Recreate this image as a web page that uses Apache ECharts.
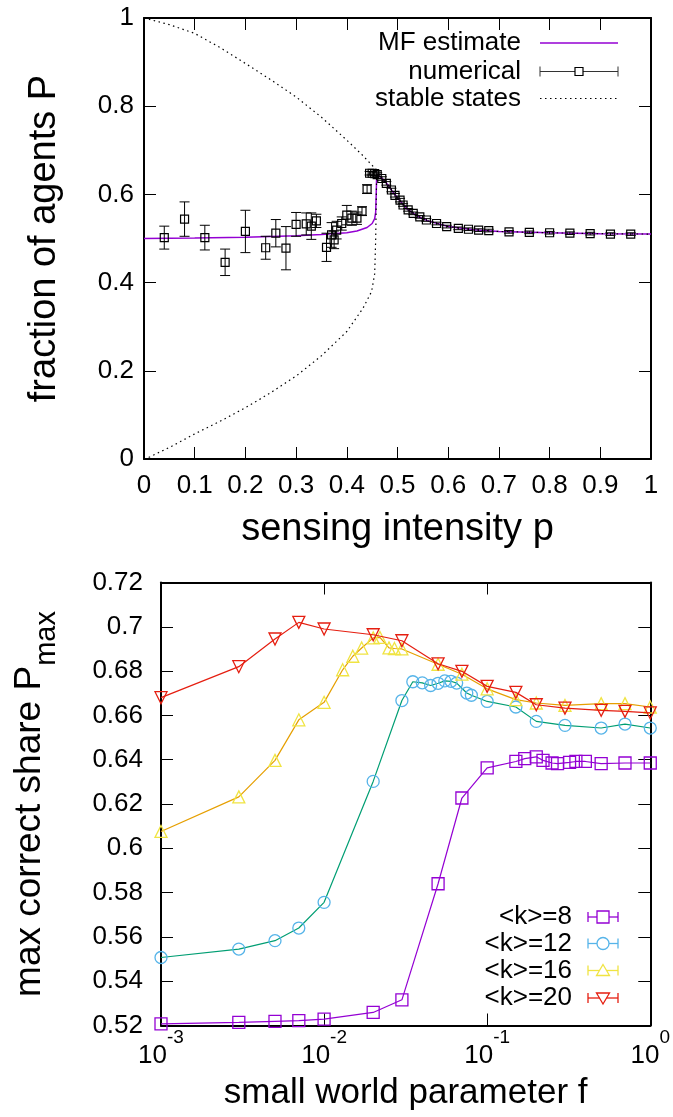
<!DOCTYPE html>
<html><head><meta charset="utf-8">
<script src="https://cdn.jsdelivr.net/npm/echarts@6/dist/echarts.min.js"></script>
<style>html,body{margin:0;padding:0;background:#fff}#c{width:673px;height:1117px}</style>
</head><body><div id="c"></div>
<script>
const FONT = '"Liberation Sans", Arial, Helvetica, sans-serif';

// ---------- top panel data ----------
const numP   = [0.04,0.08,0.12,0.16,0.20,0.24,0.26,0.28,0.30,0.32,0.33,0.34,0.36,0.37,0.375,0.38,0.39,0.40,0.41,0.42,0.43,0.44,0.445,0.45,0.455,0.46,0.469,0.478,0.488,0.495,0.505,0.511,0.521,0.531,0.544,0.557,0.577,0.597,0.62,0.64,0.66,0.68,0.72,0.76,0.80,0.84,0.88,0.92,0.96];
const numVal = [0.502,0.544,0.502,0.446,0.516,0.479,0.512,0.478,0.532,0.533,0.528,0.540,0.480,0.508,0.497,0.519,0.534,0.553,0.546,0.546,0.562,0.612,0.648,0.648,0.647,0.645,0.636,0.625,0.610,0.598,0.587,0.576,0.565,0.557,0.549,0.542,0.534,0.527,0.523,0.521,0.519,0.518,0.515,0.514,0.513,0.512,0.511,0.510,0.510];
const numErr = [0.026,0.039,0.028,0.030,0.048,0.026,0.031,0.049,0.027,0.025,0.030,0.015,0.032,0.028,0.020,0.020,0.015,0.022,0.016,0.014,0.010,0.010,0.004,0.004,0.004,0.004,0.004,0.004,0.004,0.004,0.004,0.003,0.003,0.003,0.003,0.003,0.003,0.003,0.003,0.003,0.003,0.003,0.003,0.003,0.003,0.003,0.003,0.003,0.003];

const mfP   = [0,0.1,0.2,0.3,0.35,0.4,0.42,0.44,0.45,0.455,0.457,0.458,0.459,0.462,0.47,0.48,0.49,0.5,0.52,0.54,0.56,0.6,0.65,0.7,0.8,0.9,1];
const mfVal = [0.5,0.501,0.503,0.506,0.509,0.513,0.517,0.525,0.534,0.545,0.56,0.6,0.646,0.645,0.636,0.623,0.607,0.592,0.566,0.55,0.54,0.527,0.52,0.516,0.513,0.511,0.51];

const stUpP   = [0,0.05,0.1,0.15,0.2,0.25,0.3,0.35,0.4,0.43,0.459,0.47,0.48,0.49,0.5,0.52,0.54,0.56,0.6,0.65,0.7,0.8,0.9,1];
const stUpVal = [1,0.985,0.965,0.933,0.897,0.86,0.821,0.775,0.723,0.69,0.655,0.636,0.623,0.607,0.592,0.566,0.55,0.54,0.527,0.52,0.516,0.513,0.511,0.51];
const stLoP   = [0,0.011,0.054,0.1,0.156,0.201,0.248,0.301,0.35,0.4,0.432,0.449,0.455,0.457,0.458,0.459];
const stLoVal = [0,0.0045,0.0285,0.057,0.089,0.117,0.149,0.189,0.234,0.289,0.342,0.38,0.42,0.5,0.58,0.655];

const topXTicks = ['0','0.1','0.2','0.3','0.4','0.5','0.6','0.7','0.8','0.9','1'];
const topYTicks = ['0','0.2','0.4','0.6','0.8','1'];

// ---------- bottom panel data ----------
const fK8  = [0.001,0.003,0.005,0.007,0.01,0.02,0.03,0.05,0.07,0.1,0.15,0.17,0.2,0.22,0.25,0.27,0.32,0.35,0.4,0.5,0.7,1];
const pK8  = [0.5207,0.5214,0.5219,0.5222,0.5229,0.5259,0.5316,0.584,0.6227,0.6363,0.6392,0.6405,0.6413,0.6397,0.6385,0.6382,0.6388,0.6392,0.6392,0.6382,0.6385,0.6385];
const fK12 = [0.001,0.003,0.005,0.007,0.01,0.02,0.03,0.035,0.04,0.045,0.05,0.055,0.06,0.065,0.075,0.08,0.1,0.15,0.2,0.3,0.5,0.7,1];
const pK12 = [0.5507,0.5545,0.5583,0.564,0.5756,0.6302,0.6667,0.6752,0.6747,0.6735,0.6745,0.6756,0.6754,0.6746,0.6701,0.6691,0.6663,0.6638,0.6573,0.6555,0.6543,0.6561,0.6543];
const fK16 = [0.001,0.003,0.005,0.007,0.01,0.013,0.015,0.017,0.02,0.022,0.025,0.027,0.03,0.05,0.07,0.1,0.15,0.2,0.3,0.5,0.7,1];
const pK16 = [0.6076,0.6232,0.6397,0.658,0.6659,0.6806,0.6867,0.6904,0.695,0.6952,0.6905,0.6902,0.690,0.6831,0.6786,0.672,0.6671,0.6656,0.6645,0.6653,0.6653,0.6638];
const fK20 = [0.001,0.003,0.005,0.007,0.01,0.02,0.03,0.05,0.07,0.1,0.15,0.2,0.3,0.5,0.7,1];
const pK20 = [0.668,0.682,0.6945,0.702,0.699,0.6964,0.6937,0.6833,0.6799,0.6731,0.6704,0.6648,0.6633,0.6623,0.6618,0.6611];

const botYTicks = ['0.52','0.54','0.56','0.58','0.6','0.62','0.64','0.66','0.68','0.7','0.72'];
const botXTicks = ['-3','-2','-1','0'];

const botNames = ['<k>=8','<k>=12','<k>=16','<k>=20'];
const topNames = ['MF estimate','numerical','stable states'];

// ---------- helpers ----------
const zip = (a,b) => a.map((v,i)=>[v,b[i]]);
const tickStyle = {show:true, inside:true, length:12, lineStyle:{color:'#000', width:1}};
const lineAx = {show:true, onZero:false, lineStyle:{color:'#000', width:2}};
const lblTop = (v) => topXTicks[Math.round(v*10)];

const chart = echarts.init(document.getElementById('c'), null, {renderer:'canvas'});

const markerCol = ['#9400D3','#56B4E9','#F0E442','#E51E10'];
const lineCol   = ['#9400D3','#009E73','#E69F00','#E51E10'];
const syms = ['rect','circle','triangle','triangle'];
const rots = [0,0,0,180];
const botData = [zip(fK8,pK8), zip(fK12,pK12), zip(fK16,pK16), zip(fK20,pK20)];

const option = {
  animation:false,
  backgroundColor:'#fff',
  textStyle:{fontFamily:FONT},
  grid:[
    {left:144, top:18, width:507, height:441},
    {left:161, top:582.5, width:490, height:443}
  ],
  xAxis:[
    {type:'value', gridIndex:0, min:0, max:1, interval:0.1, position:'bottom',
     axisLine:lineAx, axisTick:tickStyle, splitLine:{show:false},
     axisLabel:{margin:14, fontSize:26, color:'#000', fontFamily:FONT, hideOverlap:false,
       formatter:(v)=>lblTop(v)},
     name:'sensing intensity p', nameLocation:'middle', nameGap:52,
     nameTextStyle:{fontSize:38, color:'#000', fontFamily:FONT}},
    {type:'value', gridIndex:0, min:0, max:1, interval:0.1, position:'top',
     axisLine:lineAx, axisTick:tickStyle, axisLabel:{show:false}, splitLine:{show:false}},
    {type:'log', logBase:10, gridIndex:1, min:0.001, max:1, position:'bottom',
     axisLine:lineAx, axisTick:tickStyle, splitLine:{show:false}, minorTick:{show:false},
     axisLabel:{margin:3, color:'#000', fontFamily:FONT, hideOverlap:false,
       formatter:(v)=>{const e=Math.round(Math.log10(v)); return '{b|10}{s|'+botXTicks[e+3]+'}';},
       rich:{b:{fontSize:26, fontFamily:FONT, color:'#000', lineHeight:40, verticalAlign:'bottom'},
             s:{fontSize:19, fontFamily:FONT, color:'#000', verticalAlign:'top'}}},
     name:'small world parameter f', nameLocation:'middle', nameGap:50,
     nameTextStyle:{fontSize:35, color:'#000', fontFamily:FONT}},
    {type:'log', logBase:10, gridIndex:1, min:0.001, max:1, position:'top',
     axisLine:lineAx, axisTick:tickStyle, axisLabel:{show:false}, splitLine:{show:false}}
  ],
  yAxis:[
    {type:'value', gridIndex:0, min:0, max:1, interval:0.2, position:'left',
     axisLine:lineAx, axisTick:tickStyle, splitLine:{show:false},
     axisLabel:{margin:10, fontSize:26, color:'#000', fontFamily:FONT,
       formatter:(v)=>topYTicks[Math.round(v*5)]},
     name:'fraction of agents P', nameLocation:'middle', nameGap:80,
     nameTextStyle:{fontSize:38, color:'#000', fontFamily:FONT}},
    {type:'value', gridIndex:0, min:0, max:1, interval:0.2, position:'right',
     axisLine:lineAx, axisTick:tickStyle, axisLabel:{show:false}, splitLine:{show:false}},
    {type:'value', gridIndex:1, min:0.52, max:0.72, interval:0.02, position:'left',
     axisLine:lineAx, axisTick:tickStyle, splitLine:{show:false},
     axisLabel:{margin:18, fontSize:26, color:'#000', fontFamily:FONT,
       formatter:(v)=>botYTicks[Math.round((v-0.52)/0.02)]},
     name:'{a|max correct share P}{s|max}', nameLocation:'middle', nameGap:100,
     nameTextStyle:{fontSize:37, color:'#000', fontFamily:FONT,
       rich:{a:{fontSize:37, fontFamily:FONT, color:'#000', lineHeight:50, verticalAlign:'top'},
             s:{fontSize:29, fontFamily:FONT, color:'#000', verticalAlign:'bottom'}}}},
    {type:'value', gridIndex:1, min:0.52, max:0.72, interval:0.02, position:'right',
     axisLine:lineAx, axisTick:tickStyle, axisLabel:{show:false}, splitLine:{show:false}}
  ],
  series:[
    {name:topNames[2], type:'line', xAxisIndex:0, yAxisIndex:0, data:zip(stUpP,stUpVal),
     showSymbol:false, symbol:'none', lineStyle:{color:'#000', width:1.2, type:[1.5,3.5]}, z:3},
    {name:topNames[2], type:'line', xAxisIndex:0, yAxisIndex:0, data:zip(stLoP,stLoVal),
     showSymbol:false, symbol:'none', lineStyle:{color:'#000', width:1.2, type:[1.5,3.5]}, z:3},
    {name:topNames[0], type:'line', xAxisIndex:0, yAxisIndex:0, data:zip(mfP,mfVal),
     showSymbol:false, symbol:'none', lineStyle:{color:'#9400D3', width:1.5}, z:2},
    {name:topNames[1], type:'custom', xAxisIndex:0, yAxisIndex:0,
     data:numP.map((p,i)=>[p,numVal[i],numErr[i]]), encode:{x:0,y:1}, z:4,
     renderItem:(params, api)=>{
       const x=api.value(0), y=api.value(1), e=api.value(2);
       const c=api.coord([x,y]), lo=api.coord([x,y-e]), hi=api.coord([x,y+e]);
       const st={stroke:'#000', lineWidth:1, fill:null};
       return {type:'group', children:[
         {type:'line', shape:{x1:c[0],y1:lo[1],x2:c[0],y2:hi[1]}, style:st},
         {type:'line', shape:{x1:c[0]-5,y1:lo[1],x2:c[0]+5,y2:lo[1]}, style:st},
         {type:'line', shape:{x1:c[0]-5,y1:hi[1],x2:c[0]+5,y2:hi[1]}, style:st},
         {type:'rect', shape:{x:c[0]-4,y:c[1]-4,width:8,height:8}, style:{stroke:'#000', lineWidth:1.2, fill:null}}
       ]};
     }},
    ...botData.map((d,i)=>({
      name:botNames[i], type:'line', xAxisIndex:2, yAxisIndex:2, data:d,
      symbol:syms[i], symbolRotate:rots[i], symbolSize:12, showSymbol:true, z:5+i,
      itemStyle:{color:'rgba(0,0,0,0)', borderColor:markerCol[i], borderWidth:1.3},
      lineStyle:{color:lineCol[i], width:1.2}
    }))
  ],
  graphic:[]
};

// legends (drawn as graphic elements, text to the left of the sample)
const g = [];
const tRowY = [43, 71.5, 98.5];
topNames.forEach((n,i)=>{
  g.push({type:'text', style:{text:n, x:521, y:tRowY[i], textAlign:'right', textVerticalAlign:'middle', verticalAlign:'middle', font:'26px '+FONT, fill:'#000'}});
});
g.push({type:'line', shape:{x1:540,y1:tRowY[0],x2:618,y2:tRowY[0]}, style:{stroke:'#9400D3', lineWidth:1.5}});
g.push({type:'line', shape:{x1:540,y1:tRowY[1],x2:618,y2:tRowY[1]}, style:{stroke:'#333', lineWidth:1}});
g.push({type:'line', shape:{x1:540,y1:tRowY[1]-5,x2:540,y2:tRowY[1]+5}, style:{stroke:'#333', lineWidth:1}});
g.push({type:'line', shape:{x1:618,y1:tRowY[1]-5,x2:618,y2:tRowY[1]+5}, style:{stroke:'#333', lineWidth:1}});
g.push({type:'rect', shape:{x:575,y:tRowY[1]-4,width:8,height:8}, style:{stroke:'#000', lineWidth:1.2, fill:'#fff'}});
g.push({type:'line', shape:{x1:540,y1:tRowY[2],x2:618,y2:tRowY[2]}, style:{stroke:'#000', lineWidth:1.2, lineDash:[1.5,3.5]}});

const bRowY = [917, 943.5, 970.5, 998];
botNames.forEach((n,i)=>{
  const y=bRowY[i], c=markerCol[i], cx=603;
  g.push({type:'text', style:{text:n, x:572, y:y, textAlign:'right', textVerticalAlign:'middle', verticalAlign:'middle', font:'26px '+FONT, fill:'#000'}});
  g.push({type:'line', shape:{x1:588,y1:y,x2:618,y2:y}, style:{stroke:c, lineWidth:1.3}});
  g.push({type:'line', shape:{x1:588,y1:y-5,x2:588,y2:y+5}, style:{stroke:c, lineWidth:1.3}});
  g.push({type:'line', shape:{x1:618,y1:y-5,x2:618,y2:y+5}, style:{stroke:c, lineWidth:1.3}});
  let shp;
  if (i===0) shp={type:'rect', shape:{x:cx-6,y:y-6,width:12,height:12}};
  else if (i===1) shp={type:'circle', shape:{cx:cx,cy:y,r:6}};
  else if (i===2) shp={type:'polygon', shape:{points:[[cx,y-6],[cx+6.5,y+5],[cx-6.5,y+5]]}};
  else shp={type:'polygon', shape:{points:[[cx,y+6],[cx+6.5,y-5],[cx-6.5,y-5]]}};
  shp.style={stroke:c, lineWidth:1.3, fill:'#fff'};
  g.push(shp);
});
option.graphic = g;
chart.setOption(option);
</script></body></html>
